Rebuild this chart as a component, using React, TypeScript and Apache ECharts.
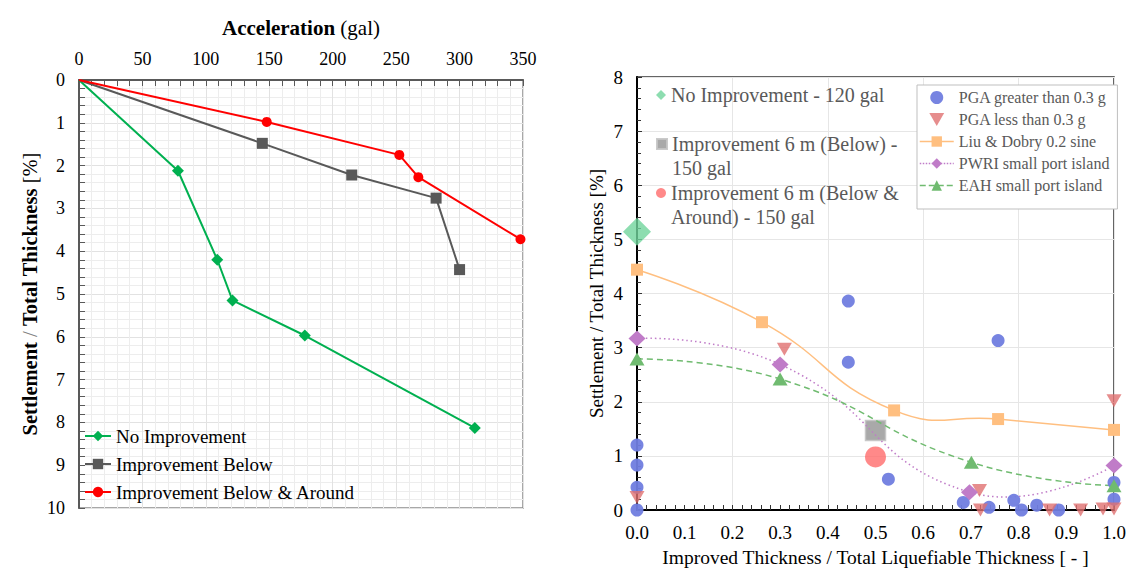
import React, { useEffect, useRef } from "react";
import * as echarts from "echarts";

const SERIF = "'Liberation Serif', 'Times New Roman', Times, serif";

// ---- Left panel: settlement ratio versus input acceleration ----
const leftNames = ["No Improvement", "Improvement Below", "Improvement Below & Around"];
const noImpAccel = [0, 78, 109, 121, 178, 312];
const noImpSettle = [0, 2.12, 4.2, 5.15, 5.97, 8.13];
const belowAccel = [0, 144.5, 215, 281.5, 300];
const belowSettle = [0, 1.48, 2.22, 2.76, 4.43];
const aroundAccel = [0, 148, 252.5, 267.5, 348];
const aroundSettle = [0, 0.98, 1.75, 2.27, 3.72];

// ---- Right panel: settlement ratio versus improved thickness ratio ----
const modelNames = [
  "No Improvement - 120 gal",
  "Improvement 6 m (Below) - 150 gal",
  "Improvement 6 m (Below & Around) - 150 gal",
];
// legend text, wrapped; the leading blank line keeps the marker beside the first line
const modelLabels = [
  "No Improvement - 120 gal",
  "\u00a0\nImprovement 6 m (Below) -\n150 gal",
  "\u00a0\nImprovement 6 m (Below &\nAround) - 150 gal",
];
const modelRatio = [0, 0.5, 0.5];
const modelSettle = [5.14, 1.47, 0.98];

const fieldNames = [
  "PGA greater than 0.3 g",
  "PGA less than 0.3 g",
  "Liu & Dobry 0.2 sine",
  "PWRI small port island",
  "EAH small port island",
];
const pgaHighRatio = [0, 0, 0, 0, 0.443, 0.443, 0.527, 0.684, 0.738, 0.757, 0.79, 0.806, 0.838, 0.884, 1, 1];
const pgaHighSettle = [1.2, 0.83, 0.42, 0, 3.86, 2.73, 0.57, 0.14, 0.05, 3.13, 0.18, 0, 0.09, 0, 0.51, 0.2];
const pgaLowRatio = [0, 0.309, 0.718, 0.72, 0.865, 0.93, 0.977, 1, 1];
const pgaLowSettle = [0.23, 2.97, 0.36, 0, 0, 0, 0.02, 0.02, 2.02];
const liuRatio = [0, 0.262, 0.539, 0.757, 1];
const liuSettle = [4.44, 3.47, 1.84, 1.68, 1.48];
const pwriRatio = [0, 0.3, 0.697, 1];
const pwriSettle = [3.17, 2.69, 0.33, 0.82];
const eahRatio = [0, 0.3, 0.701, 1];
const eahSettle = [2.79, 2.42, 0.88, 0.45];

const pairs = (xs: number[], ys: number[]) => xs.map((x, i) => [x, ys[i]]);
// series starting at the origin carry no marker on the first point
const fromOrigin = (xs: number[], ys: number[]) =>
  xs.map((x, i) => (i === 0 ? { value: [x, ys[i]], symbol: "none" } : [x, ys[i]]));

const COLORS = {
  noImp: "#00b050",
  below: "#595959",
  around: "#ff0000",
  pgaHigh: "#707ddf",
  pgaLow: "#e07070",
  liu: "#ffbf80",
  pwri: "#c07cc8",
  eah: "#70bb70",
  bigDiamond: "#70d49c",
  bigSquare: "#a0a0a0",
  bigCircle: "#ff6b6b",
};

const DOWN_TRIANGLE = "path://M0,0L16,0L8,14Z";

// smoothed trend line through a field series, drawn via the axis scales
const trendCurve = (xs: number[], ys: number[], color: string, dash: number[] | null) => ({
  type: "custom",
  xAxisIndex: 1,
  yAxisIndex: 1,
  silent: true,
  z: 2,
  data: pairs(xs, ys),
  renderItem: (params: any, api: any) => {
    if (params.dataIndex !== 0) return null;
    const pts = xs.map((x, i) => api.coord([x, ys[i]]));
    return {
      type: "polyline",
      shape: { points: pts, smooth: 0.5 },
      style: { stroke: color, fill: "none", lineWidth: 1.5, lineDash: dash || undefined },
    };
  },
});

const axisNameRich = (size: number) => ({
  b: { fontFamily: SERIF, fontSize: size, fontWeight: "bold", color: "#000" },
  n: { fontFamily: SERIF, fontSize: size, fontWeight: "normal", color: "#000" },
  g: { fontFamily: SERIF, fontSize: size, fontWeight: "normal", color: "#808080" },
});

const modelLegend = (i: number, top: number) => ({
  data: [modelNames[i]],
  orient: "vertical",
  left: 656,
  top,
  padding: 0,
  itemWidth: 10,
  itemHeight: 10,
  formatter: () => modelLabels[i],
  textStyle: { fontFamily: SERIF, fontSize: 20, color: "#595959", lineHeight: 24 },
});

export default function App() {
  const ref = useRef<HTMLDivElement>(null);

  useEffect(() => {
    if (!ref.current) return;
    const chart = echarts.init(ref.current, null, { renderer: "svg" });

    const option: any = {
      animation: false,
      textStyle: { fontFamily: SERIF },
      grid: [
        {
          left: 79, top: 80, width: 444, height: 428,
          show: true, borderColor: "#8c8c8c", borderWidth: 1.5,
          containLabel: false, outerBoundsMode: "none",
        },
        {
          left: 637, top: 77, width: 477, height: 433,
          show: true, borderColor: "#333333", borderWidth: 1.5,
          containLabel: false, outerBoundsMode: "none",
        },
      ],
      xAxis: [
        {
          gridIndex: 0, type: "value", position: "top",
          min: 0, max: 350, interval: 50,
          name: "{b|Acceleration} {n|(gal)}",
          nameLocation: "middle", nameGap: 42, nameMoveOverlap: false,
          nameTextStyle: { fontSize: 21, rich: axisNameRich(21) },
          axisLine: { show: true, onZero: false, lineStyle: { color: "#595959", width: 2 } },
          axisTick: { show: true, inside: true, length: 6, lineStyle: { color: "#595959" } },
          minorTick: { show: true, splitNumber: 5, length: 6, lineStyle: { color: "#595959" } },
          axisLabel: { fontFamily: SERIF, fontSize: 18, color: "#000", margin: 12 },
          splitLine: { show: true, lineStyle: { color: "#e2e2e2", width: 1 } },
          minorSplitLine: { show: true, lineStyle: { color: "#ededed", width: 1 } },
        },
        {
          gridIndex: 1, type: "value", position: "bottom",
          min: 0, max: 1, interval: 0.1,
          name: "Improved Thickness / Total Liquefiable Thickness [ - ]",
          nameLocation: "middle", nameGap: 37, nameMoveOverlap: false,
          nameTextStyle: { fontFamily: SERIF, fontSize: 19.5, color: "#000" },
          axisLine: { show: true, onZero: false, lineStyle: { color: "#000", width: 2 } },
          axisTick: { show: true, inside: true, length: 5, lineStyle: { color: "#333" } },
          minorTick: { show: true, splitNumber: 5, length: 5, lineStyle: { color: "#333" } },
          axisLabel: {
            fontFamily: SERIF, fontSize: 19, color: "#000", margin: 13,
            formatter: (v: number) => v.toFixed(1),
          },
          splitLine: { show: false },
        },
        {
          // vertical guides every 0.2
          gridIndex: 1, type: "value", position: "top",
          min: 0, max: 1, interval: 0.2,
          axisLine: { show: false }, axisTick: { show: false }, axisLabel: { show: false },
          splitLine: { show: true, lineStyle: { color: "#e6e6e6", width: 1 } },
        },
      ],
      yAxis: [
        {
          gridIndex: 0, type: "value", inverse: true,
          min: 0, max: 10, interval: 1,
          name: "{b|Settlement} {g|/} {b|Total Thickness} {n|[%]}",
          nameLocation: "middle", nameGap: 39, nameRotate: 90, nameMoveOverlap: false,
          nameTextStyle: { fontSize: 20.5, rich: axisNameRich(20.5) },
          axisLine: { show: true, onZero: false, lineStyle: { color: "#595959", width: 2 } },
          axisTick: { show: true, inside: true, length: 6, lineStyle: { color: "#595959" } },
          minorTick: { show: true, splitNumber: 5, length: 6, lineStyle: { color: "#595959" } },
          axisLabel: { fontFamily: SERIF, fontSize: 18, color: "#000", margin: 14 },
          splitLine: { show: true, lineStyle: { color: "#e2e2e2", width: 1 } },
          minorSplitLine: { show: true, lineStyle: { color: "#ededed", width: 1 } },
        },
        {
          gridIndex: 1, type: "value",
          min: 0, max: 8, interval: 1,
          name: "Settlement / Total Thickness [%]",
          nameLocation: "middle", nameGap: 31, nameRotate: 90, nameMoveOverlap: false,
          nameTextStyle: { fontFamily: SERIF, fontSize: 19, color: "#000" },
          axisLine: { show: true, onZero: false, lineStyle: { color: "#000", width: 2 } },
          axisTick: { show: true, inside: true, length: 5, lineStyle: { color: "#333" } },
          minorTick: { show: true, splitNumber: 5, length: 4, lineStyle: { color: "#333" } },
          axisLabel: { fontFamily: SERIF, fontSize: 19, color: "#000", margin: 14 },
          splitLine: { show: true, lineStyle: { color: "#e6e6e6", width: 1 } },
        },
      ],
      legend: [
        {
          data: leftNames,
          orient: "vertical", left: 84, top: 426, padding: 0,
          itemWidth: 26, itemHeight: 13, itemGap: 8,
          textStyle: { fontFamily: SERIF, fontSize: 19, color: "#000", lineHeight: 20 },
        },
        modelLegend(0, 83),
        modelLegend(1, 108),
        modelLegend(2, 157),
        {
          data: [
            { name: fieldNames[0] },
            { name: fieldNames[1], icon: DOWN_TRIANGLE },
            { name: fieldNames[2], lineStyle: { color: COLORS.liu, width: 1.5, type: "solid", opacity: 1 } },
            { name: fieldNames[3], lineStyle: { color: COLORS.pwri, width: 1.5, type: "dotted", opacity: 1 } },
            { name: fieldNames[4], lineStyle: { color: COLORS.eah, width: 1.5, type: "dashed", opacity: 1 } },
          ],
          orient: "vertical", left: 917, top: 85,
          padding: [4, 8, 15, 2],
          itemWidth: 34, itemHeight: 13, itemGap: 5,
          symbolKeepAspect: true,
          borderColor: "#bfbfbf", borderWidth: 1, backgroundColor: "#ffffff",
          textStyle: { fontFamily: SERIF, fontSize: 16, color: "#595959", lineHeight: 17 },
        },
      ],
      series: [
        // left panel
        {
          name: leftNames[0], type: "line", xAxisIndex: 0, yAxisIndex: 0,
          data: fromOrigin(noImpAccel, noImpSettle),
          symbol: "diamond", symbolSize: 12,
          lineStyle: { color: COLORS.noImp, width: 2 },
          itemStyle: { color: COLORS.noImp },
        },
        {
          name: leftNames[1], type: "line", xAxisIndex: 0, yAxisIndex: 0,
          data: fromOrigin(belowAccel, belowSettle),
          symbol: "rect", symbolSize: 11,
          lineStyle: { color: COLORS.below, width: 2 },
          itemStyle: { color: COLORS.below },
        },
        {
          name: leftNames[2], type: "line", xAxisIndex: 0, yAxisIndex: 0,
          data: fromOrigin(aroundAccel, aroundSettle),
          symbol: "circle", symbolSize: 10,
          lineStyle: { color: COLORS.around, width: 2 },
          itemStyle: { color: COLORS.around },
        },
        // right panel: model results
        {
          name: modelNames[0], type: "scatter", xAxisIndex: 1, yAxisIndex: 1,
          data: [[modelRatio[0], modelSettle[0]]],
          symbol: "diamond", symbolSize: 28, z: 1,
          itemStyle: { color: COLORS.bigDiamond },
        },
        {
          name: modelNames[1], type: "scatter", xAxisIndex: 1, yAxisIndex: 1,
          data: [[modelRatio[1], modelSettle[1]]],
          symbol: "rect", symbolSize: 20, z: 1,
          itemStyle: { color: COLORS.bigSquare, borderColor: "#c4c4c4", borderWidth: 1.5, opacity: 0.9 },
        },
        {
          name: modelNames[2], type: "scatter", xAxisIndex: 1, yAxisIndex: 1,
          data: [[modelRatio[2], modelSettle[2]]],
          symbol: "circle", symbolSize: 21, z: 1,
          itemStyle: { color: COLORS.bigCircle },
        },
        // right panel: trend lines
        trendCurve(liuRatio, liuSettle, COLORS.liu, null),
        trendCurve(pwriRatio, pwriSettle, COLORS.pwri, [1.5, 3]),
        trendCurve(eahRatio, eahSettle, COLORS.eah, [6, 4]),
        // right panel: field and test data
        {
          name: fieldNames[0], type: "scatter", xAxisIndex: 1, yAxisIndex: 1,
          data: pairs(pgaHighRatio, pgaHighSettle),
          symbol: "circle", symbolSize: 13, z: 3,
          itemStyle: { color: COLORS.pgaHigh, opacity: 0.95 },
        },
        {
          name: fieldNames[1], type: "scatter", xAxisIndex: 1, yAxisIndex: 1,
          data: pairs(pgaLowRatio, pgaLowSettle),
          symbol: "triangle", symbolRotate: 180, symbolSize: [15, 13], z: 3,
          itemStyle: { color: COLORS.pgaLow },
        },
        {
          name: fieldNames[2], type: "line", xAxisIndex: 1, yAxisIndex: 1,
          data: pairs(liuRatio, liuSettle),
          symbol: "rect", symbolSize: 12, z: 3,
          lineStyle: { color: COLORS.liu, width: 1.5, opacity: 0 },
          itemStyle: { color: COLORS.liu },
        },
        {
          name: fieldNames[3], type: "line", xAxisIndex: 1, yAxisIndex: 1,
          data: pairs(pwriRatio, pwriSettle),
          symbol: "diamond", symbolSize: [17, 16], z: 3,
          lineStyle: { color: COLORS.pwri, width: 1.5, type: "dotted", opacity: 0 },
          itemStyle: { color: COLORS.pwri },
        },
        {
          name: fieldNames[4], type: "line", xAxisIndex: 1, yAxisIndex: 1,
          data: pairs(eahRatio, eahSettle),
          symbol: "triangle", symbolSize: [15, 13], z: 3,
          lineStyle: { color: COLORS.eah, width: 1.5, type: "dashed", opacity: 0 },
          itemStyle: { color: COLORS.eah },
        },
      ],
    };

    chart.setOption(option);
    return () => chart.dispose();
  }, []);

  return (
    <div
      ref={ref}
      style={{ position: "absolute", left: 0, top: 0, width: 1130, height: 570, background: "#fff" }}
    />
  );
}
